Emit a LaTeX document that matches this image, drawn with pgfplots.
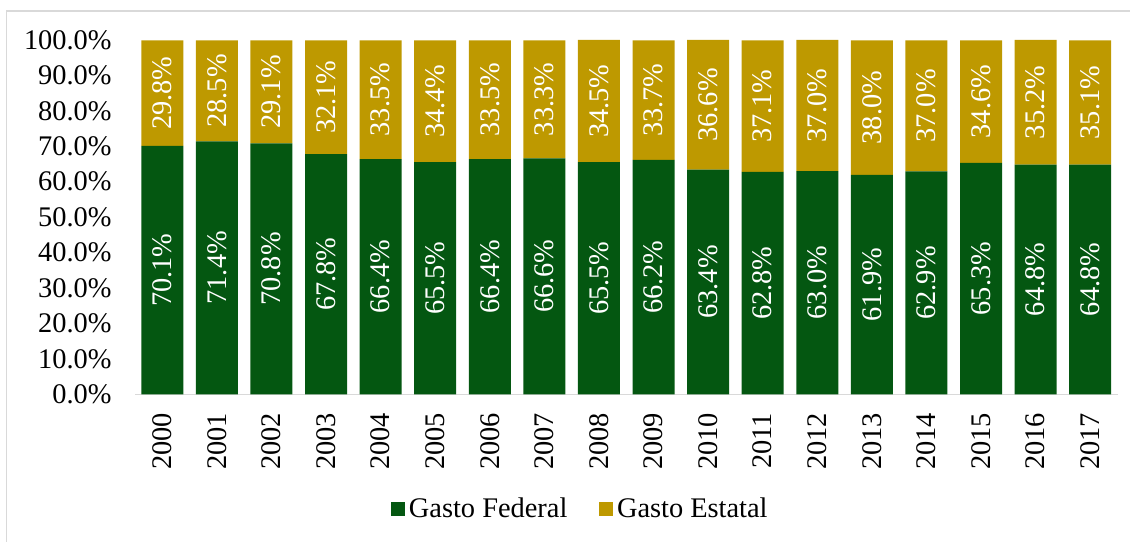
\documentclass[border=0pt]{standalone}
\usepackage{fontspec}
\setmainfont{Liberation Serif}
\usepackage{pgfplots}
\usepackage{pgfplotstable}
\pgfplotsset{compat=1.18}
\definecolor{fedgreen}{RGB}{4,87,17}
\definecolor{estgold}{RGB}{190,153,0}
\definecolor{linegray}{RGB}{217,217,217}
\pgfplotstableread{
year fed est
2000 70.1 29.8
2001 71.4 28.5
2002 70.8 29.1
2003 67.8 32.1
2004 66.4 33.5
2005 65.5 34.4
2006 66.4 33.5
2007 66.6 33.3
2008 65.5 34.5
2009 66.2 33.7
2010 63.4 36.6
2011 62.8 37.1
2012 63.0 37.0
2013 61.9 38.0
2014 62.9 37.0
2015 65.3 34.6
2016 64.8 35.2
2017 64.8 35.1
}\data
\newcommand\fs{\fontsize{14.2}{17}\selectfont}
\begin{document}
\begin{tikzpicture}
\useasboundingbox (0,0) rectangle (565pt,270.5pt);
\draw[linegray, line width=0.75pt] (3.35pt,-2pt) -- (3.35pt,265pt) -- (567pt,265pt);
\begin{axis}[
 at={(67.5pt,73.35pt)}, anchor=south west,
 scale only axis, width=491.5pt, height=177.15pt,
 ybar stacked, bar width=21pt,
 xmin=1999.5, xmax=2017.51, ymin=0, ymax=100,
 xtick=data, ytick={0,10,...,100},
 /pgf/number format/assume math mode=true,
 xticklabel style={/pgf/number format/1000 sep=, rotate=90, anchor=east, inner sep=0pt, font=\fs},
 xticklabel shift=9.2pt,
 yticklabel={\pgfmathprintnumber[fixed,fixed zerofill,precision=1]{\tick}\%},
 yticklabel style={anchor=east, inner sep=0pt, font=\fs},
 yticklabel shift=11.5pt,
 major tick length=0pt,
 axis x line*=bottom, axis y line*=left,
 x axis line style={draw=linegray, line width=0.75pt},
 y axis line style={draw=none},
 nodes near coords={\pgfmathprintnumber[fixed,fixed zerofill,precision=1]{\pgfplotspointmeta}\%},
 every node near coord/.append style={font=\fs, text=white, anchor=center, rotate=90},
 legend style={draw=none, at={(0.4542,-0.3237)}, anchor=center, legend columns=2, font=\fs,
   /tikz/every even column/.append style={column sep=14pt}},
 clip=false,
]
\addplot[fill=fedgreen, draw=none, point meta=\thisrow{fed},
  legend image code/.code={\fill[fedgreen] (0pt,-3.4pt) rectangle (6.8pt,3.4pt);}]
  table[x=year, y=fed]{\data};
\addlegendentry{Gasto Federal}
\addplot[fill=estgold, draw=none, point meta=\thisrow{est},
  legend image code/.code={\fill[estgold] (0pt,-3.4pt) rectangle (6.8pt,3.4pt);}]
  table[x=year, y=est]{\data};
\addlegendentry{Gasto Estatal}
\end{axis}
\end{tikzpicture}
\end{document}
